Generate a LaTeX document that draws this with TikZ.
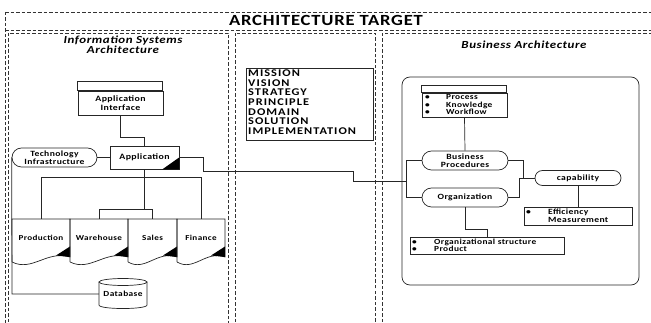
\documentclass[tikz,border=0pt]{standalone}
\usepackage{fontspec}
\setmainfont[FakeStretch=1.2,LetterSpace=5]{Carlito}
\newfontfamily\listfont[FakeStretch=1.2,LetterSpace=10]{Carlito}
\usetikzlibrary{shapes.misc}
\begin{document}
\begin{tikzpicture}[x=1pt,y=-1pt,
  ln/.style={draw=black!85,line width=0.7pt},
  dsh/.style={draw=black!80,line width=0.6pt,dash pattern=on 3.5pt off 2pt},
  box/.style={ln,rectangle,inner sep=0pt,font=\fontsize{8.2}{8.7}\selectfont\bfseries,align=center},
  pill/.style={ln,rounded rectangle,inner sep=0pt,font=\fontsize{8}{8.5}\selectfont\bfseries,align=center},
  lbl/.style={inner sep=0pt,font=\fontsize{8}{8.5}\selectfont\bfseries,align=center},
  doc/.style={inner sep=0pt,minimum height=38,font=\fontsize{7.6}{8.5}\selectfont\bfseries},
  ttl/.style={inner sep=0pt,font=\fontsize{10.8}{10.5}\selectfont\bfseries\itshape,align=center}
]
\useasboundingbox (0,0) rectangle (651,323);
\clip (0,0) rectangle (651,323);
% frames
\draw[dsh] (5,12) -- (660,12);
\draw[dsh] (5,12) -- (5,330);
\draw[dsh] (5,30) -- (660,30);
\draw[dsh] (8,33) rectangle (228,330);
\draw[dsh] (235,33) rectangle (375,330);
\draw[dsh] (382,33) rectangle (660,330);
\node[inner sep=0pt,font=\fontsize{15.5}{15.5}\selectfont\bfseries] (title) at (326,20.5) {ARCHITECTURE TARGET};
\node[ttl] (ist) at (123,45) {Information Systems\\Architecture};
\node[ttl] (bat) at (524,45) {Business Architecture};

% ---- left panel
\node[box,minimum width=85,minimum height=24] (ai) at (120.5,103) {Application\\Interface};
\draw[ln] (ai.north west) rectangle ++(85,-9);
\node[box,minimum width=69,minimum height=23] (app) at (144.5,157.5) {Application};
\fill[black] (app.south east) -- ++(0,-12) -- ++(-17,12) -- cycle;
\node[pill,minimum width=85,minimum height=19] (ti) at (54.5,157.5) {Technology\\Infrastructure};

\foreach \nm/\L/\R/\txt in {prod/12/70/Production,ware/70/128/Warehouse,sale/128/177/Sales,fin/177/225/Finance}{
  \pgfmathsetmacro\W{\R-\L}
  \pgfmathsetmacro\C{(\L+\R)/2}
  \node[doc,minimum width=\W] (\nm) at (\C,238) {\txt};
  \draw[ln] (\L,262) -- (\L,219) -- (\R,219) -- (\R,257)
     .. controls ({\L+0.6*\W},250) and ({\L+0.35*\W},272) .. (\L,262);
  \fill[black] ({\R-14},255.5) -- (\R,246.5) -- (\R,257) -- cycle;
}

\node[inner sep=0pt,minimum width=48,minimum height=30,font=\fontsize{7.8}{8.5}\selectfont\bfseries] (db) at (123,294) {\raisebox{-2pt}{Database}};
\draw[ln] (99,282) -- (99,305) .. controls (99,309.7) and (147,309.7) .. (147,305) -- (147,282);
\draw[ln] (123,282) ellipse [x radius=24,y radius=3.5];

% left connectors
\draw[ln] (ai.south) -- ++(0,22) -| (app.north);
\draw[ln] (ti.east) -- (app.west);
\draw[ln] (app.south) -- (144.5,209);
\draw[ln] (prod.north) -- (41,177) -- (201,177) -- (fin.north);
\draw[ln] (ware.north) -- (99,209) -- (152.5,209) -- (sale.north);
\draw[ln] (ti.west) -- (12,294) -- (db.west);

% ---- middle
\node[ln,inner sep=0pt,minimum width=127,minimum height=72] (list) at (309.5,104) {};
\node[inner sep=0pt,anchor=north west,align=left,font=\listfont\fontsize{10.3}{9.7}\selectfont\bfseries] (listtxt) at (248,69.5)
  {MISSION\\VISION\\STRATEGY\\PRINCIPLE\\DOMAIN\\SOLUTION\\IMPLEMENTATION};

% ---- right panel
\draw[ln,rounded corners=8] (402,77) rectangle (639,285);
\node[box,minimum width=85,minimum height=24] (hdr) at (464.5,105) {};
\draw[ln] (hdr.north west) rectangle ++(85,-7);
\node[lbl,anchor=north west,align=left,font=\fontsize{7.8}{7.6}\selectfont\bfseries] (hdrtxt) at (425,94.5)
  {\makebox[21pt][l]{\textbullet}Process\\\makebox[21pt][l]{\textbullet}Knowledge\\\makebox[21pt][l]{\textbullet}Workflow};
\node[pill,minimum width=86,minimum height=19] (bp) at (465,160.5) {Business\\Procedures};
\node[pill,minimum width=86,minimum height=19] (org) at (465,197.5) {Organization};
\node[pill,minimum width=86,minimum height=15] (cap) at (578,178) {capability};
\node[box,minimum width=108,minimum height=18] (eff) at (578,216) {};
\node[lbl,anchor=north west,align=left,font=\fontsize{8}{8}\selectfont\bfseries] (efftxt) at (526,208.5)
  {\makebox[22pt][l]{\textbullet}Efficiency\\\makebox[22pt][l]{}Measurement};
\node[box,minimum width=154,minimum height=17] (os) at (487,245.5) {};
\node[lbl,anchor=north west,align=left,font=\fontsize{7.8}{7.6}\selectfont\bfseries] (ostxt) at (412,238.5)
  {\makebox[22pt][l]{\textbullet}Organizational structure\\\makebox[22pt][l]{\textbullet}Product};

% right connectors
\coordinate (brk) at (406,181);
\draw[ln] (hdr.south) -- (bp.north);
\draw[ln] (bp.west) -- (406,160.5) -- (406,197.5) -- (org.west);
\draw[ln] (bp.east) -- (523,160.5) -- (523,178) -- (cap.west);
\draw[ln] (org.east) -- (519,197.5) -- (519,178) -- (523,178);
\draw[ln] (cap.south) -- (eff.north);
\draw[ln] (org.south) -- (465,229) -| (os.north);
% long connector
\draw[ln] (app.east) -- (203,157.5) -- (203,171) -- (353,171) -- (353,181) -- (brk);
\end{tikzpicture}
\end{document}
